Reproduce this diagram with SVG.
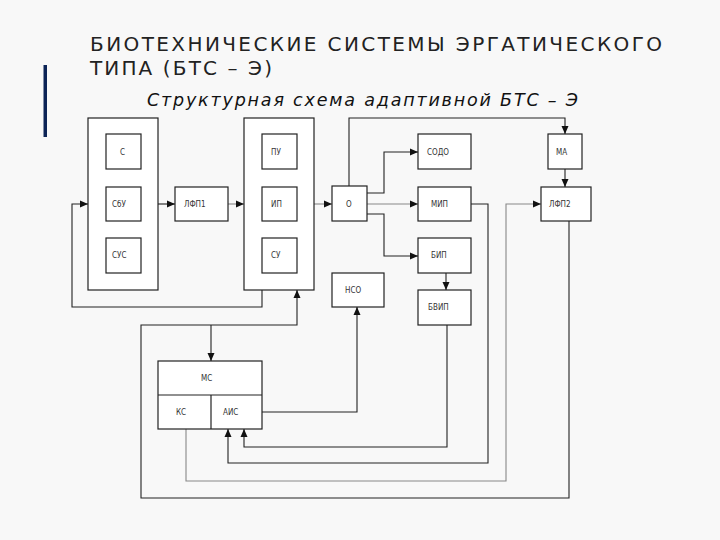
<svg xmlns="http://www.w3.org/2000/svg" width="720" height="540" viewBox="0 0 720 540">
<defs>
<marker id="ar" markerWidth="8" markerHeight="8" refX="8" refY="4" orient="auto" markerUnits="userSpaceOnUse">
<path d="M0,0.5 L8,4 L0,7.5 z" fill="#111"/>
</marker>
<style>
.b{fill:#fff;stroke:#222;stroke-width:1.2}
.l{font-family:"DejaVu Sans Condensed","DejaVu Sans",sans-serif;font-size:8px;fill:#333}
.c{fill:none;stroke:#222;stroke-width:1.1}
.g{fill:none;stroke:#888;stroke-width:1.1}
</style>
</defs>
<rect width="720" height="540" fill="#f8f8f8"/>
<rect x="43.5" y="65" width="3.5" height="72" fill="#0c2456"/>
<text x="90" y="51" font-family="DejaVu Sans,sans-serif" font-size="20" fill="#222" textLength="572" lengthAdjust="spacing">БИОТЕХНИЧЕСКИЕ СИСТЕМЫ ЭРГАТИЧЕСКОГО</text>
<text x="90" y="75" font-family="DejaVu Sans,sans-serif" font-size="20" fill="#222" textLength="182" lengthAdjust="spacing">ТИПА (БТС – Э)</text>
<text x="147" y="106" font-family="DejaVu Sans,sans-serif" font-size="17.5" font-style="italic" fill="#111" textLength="431" lengthAdjust="spacing">Структурная схема адаптивной БТС – Э</text>

<g id="connectors">
<path class="c" d="M158,204 H175" marker-end="url(#ar)"/>
<path class="g" d="M228,204 H244" marker-end="url(#ar)"/>
<path class="g" d="M314,204 H332" marker-end="url(#ar)"/>
<path class="c" d="M262,290 V307 H72 V204 H88" marker-end="url(#ar)"/>
<path class="c" d="M367,193 H384 V152 H418" marker-end="url(#ar)"/>
<path class="g" d="M367,204 H418" marker-end="url(#ar)"/>
<path class="c" d="M367,214 H384 V256 H418" marker-end="url(#ar)"/>
<path class="c" d="M446,273 V290" marker-end="url(#ar)"/>
<path class="c" d="M349,186 V118 H565 V134" marker-end="url(#ar)"/>
<path class="c" d="M565,169 V187" marker-end="url(#ar)"/>
<path class="c" d="M569,221 V498 H141 V325 H297 V290" marker-end="url(#ar)"/>
<path class="c" d="M211,325 V361" marker-end="url(#ar)"/>
<path class="c" d="M471,204 H488 V463 H228 V429" marker-end="url(#ar)"/>
<path class="c" d="M447,325 V447 H244 V429" marker-end="url(#ar)"/>
<path class="g" d="M186,429 V481 H506 V204 H541" marker-end="url(#ar)"/>
<path class="c" d="M262,412 H357 V307" marker-end="url(#ar)"/>
</g>

<g id="block1"><rect class="b" x="88" y="118" width="70" height="172"/></g>
<g id="S"><rect class="b" x="106" y="134" width="35" height="35"/><text class="l" x="120" y="155">С</text></g>
<g id="SbU"><rect class="b" x="106" y="187" width="35" height="34"/><text class="l" x="112" y="207">СбУ</text></g>
<g id="SUS"><rect class="b" x="106" y="238" width="35" height="35"/><text class="l" x="112" y="258">СУС</text></g>
<g id="LFP1"><rect class="b" x="175" y="187" width="53" height="34"/><text class="l" x="184" y="207">ЛФП1</text></g>
<g id="block2"><rect class="b" x="244" y="118" width="70" height="172"/></g>
<g id="PU"><rect class="b" x="262" y="134" width="35" height="35"/><text class="l" x="271" y="155">ПУ</text></g>
<g id="IP"><rect class="b" x="262" y="187" width="35" height="34"/><text class="l" x="271" y="207">ИП</text></g>
<g id="SU"><rect class="b" x="262" y="238" width="35" height="35"/><text class="l" x="271" y="258">СУ</text></g>
<g id="O"><rect class="b" x="332" y="186" width="35" height="35"/><text class="l" x="346" y="207">О</text></g>
<g id="SODO"><rect class="b" x="418" y="134" width="53" height="35"/><text class="l" x="427" y="155">СОДО</text></g>
<g id="MIP"><rect class="b" x="418" y="187" width="53" height="34"/><text class="l" x="431" y="207">МИП</text></g>
<g id="BIP"><rect class="b" x="418" y="238" width="53" height="35"/><text class="l" x="431" y="258">БИП</text></g>
<g id="BVIP"><rect class="b" x="418" y="290" width="53" height="35"/><text class="l" x="428" y="310">БВИП</text></g>
<g id="NSO"><rect class="b" x="332" y="273" width="52" height="34"/><text class="l" x="345" y="293">НСО</text></g>
<g id="MA"><rect class="b" x="548" y="134" width="34" height="35"/><text class="l" x="556" y="155">МА</text></g>
<g id="LFP2"><rect class="b" x="541" y="187" width="50" height="34"/><text class="l" x="549" y="207">ЛФП2</text></g>
<g id="MS"><rect class="b" x="158" y="361" width="104" height="68"/><line x1="158" y1="395" x2="262" y2="395" stroke="#222" stroke-width="1.2"/><line x1="211" y1="395" x2="211" y2="429" stroke="#222" stroke-width="1.2"/><text class="l" x="201" y="381">МС</text></g>
<g id="KS"><text class="l" x="176" y="415">КС</text></g>
<g id="AIS"><text class="l" x="223" y="415">АИС</text></g>
</svg>
